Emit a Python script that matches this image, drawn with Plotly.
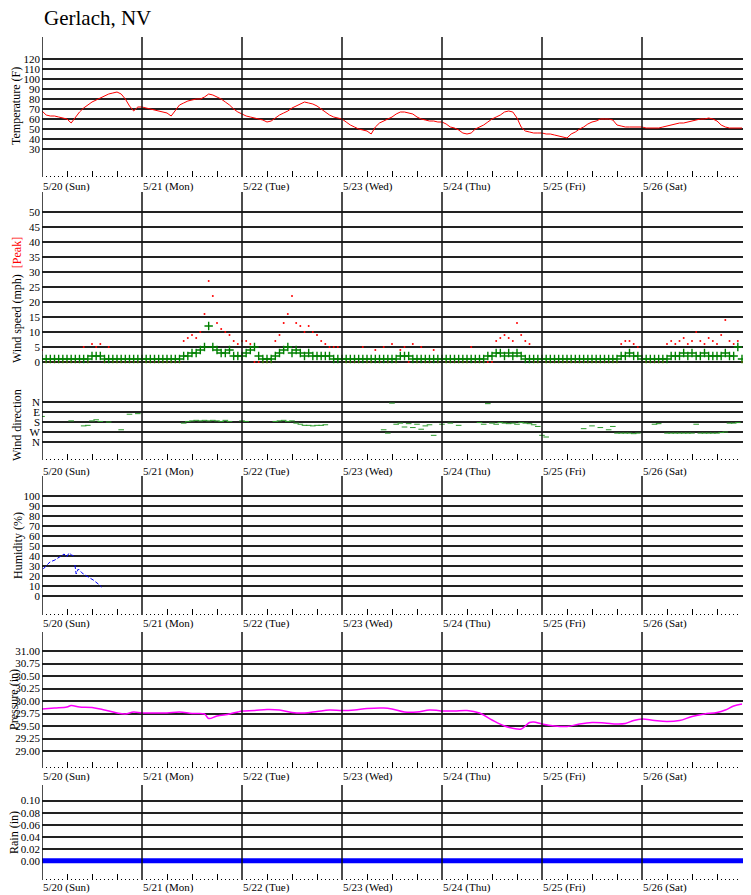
import plotly.graph_objects as go

# hourly readings, 5/20 00:00 -> 5/27 00:00 (hour 0..168)
temp_f = [68, 64, 63, 63, 62, 61, 60, 56, 62, 67, 71, 74, 77, 79, 81, 83, 85, 86, 87, 85, 80, 73, 68, 72,
          72, 71, 70, 69, 68, 67, 66, 63, 68, 74, 76, 78, 79, 80, 80, 82, 85, 84, 82, 80, 77, 74, 70, 67,
          65, 63, 62, 61, 60, 59, 57, 58, 61, 64, 66, 68, 71, 73, 75, 77, 76, 75, 73, 70, 67, 64, 62, 61,
          60, 57, 54, 52, 50, 49, 48, 45, 52, 56, 58, 60, 62, 65, 67, 67, 66, 65, 62, 60, 59, 58, 58, 57,
          57, 55, 52, 51, 49, 46, 45, 46, 50, 52, 54, 57, 60, 62, 64, 67, 68, 67, 61, 52, 48, 47, 46, 46,
          46, 45, 45, 44, 43, 42, 41, 45, 47, 50, 52, 55, 57, 58, 60, 60, 60, 59, 54, 53, 52, 52, 52, 52,
          52, 51, 51, 51, 51, 52, 53, 54, 55, 56, 56, 57, 58, 59, 60, 60, 61, 60, 58, 54, 52, 51, 51, 51,
          51]

wind_avg = [1, 1, 1, 1, 1, 1, 1, 1, 1, 1, 1, 1, 2, 2, 2, 1, 1, 1, 1, 1, 1, 1, 1, 1,
            1, 1, 1, 1, 1, 1, 1, 1, 1, 1, 2, 2, 3, 3, 4, 5, 12, 5, 4, 3, 3, 4, 2, 2,
            2, 3, 4, 5, 2, 1, 1, 1, 2, 3, 4, 5, 3, 4, 3, 2, 3, 2, 2, 2, 2, 2, 1, 1,
            1, 1, 1, 1, 1, 1, 1, 1, 1, 1, 1, 1, 1, 1, 2, 2, 2, 1, 1, 1, 1, 1, 1, 1,
            1, 1, 1, 1, 1, 1, 1, 1, 1, 1, 1, 2, 2, 3, 3, 2, 3, 2, 3, 2, 1, 1, 1, 1,
            1, 1, 1, 1, 1, 1, 1, 1, 1, 1, 1, 1, 1, 1, 1, 1, 1, 1, 1, 2, 2, 3, 2, 2,
            1, 1, 1, 1, 1, 1, 1, 2, 2, 2, 3, 2, 3, 2, 2, 3, 2, 2, 2, 2, 3, 2, 2, 5,
            1]

wind_peak = [4, 0, 0, 0, 0, 0, 0, 0, 0, 0, 5, 0, 6, 5, 6, 0, 5, 0, 0, 0, 0, 0, 0, 0,
             0, 0, 0, 0, 0, 0, 0, 0, 0, 0, 7, 8, 9, 8, 10, 16, 27, 22, 13, 11, 10, 9, 7, 6,
             7, 7, 6, 0, 0, 0, 0, 0, 7, 9, 13, 16, 22, 13, 12, 10, 12, 10, 9, 7, 6, 5, 5, 5,
             0, 0, 0, 0, 0, 5, 0, 0, 4, 0, 5, 0, 6, 0, 4, 5, 0, 6, 0, 5, 0, 0, 4, 0,
             0, 0, 0, 0, 0, 0, 0, 5, 0, 0, 0, 0, 0, 7, 8, 9, 8, 7, 13, 9, 7, 6, 0, 0,
             0, 0, 0, 0, 0, 0, 0, 0, 0, 0, 0, 0, 0, 0, 0, 0, 0, 0, 0, 6, 7, 7, 6, 5,
             0, 0, 0, 0, 0, 0, 6, 7, 6, 7, 8, 6, 7, 10, 7, 6, 8, 7, 6, 9, 14, 7, 6, 7,
             0]

N = None
wind_dir = [130, N, N, N, N, N, N, 170, N, N, 215, 210, 170, 160, 175, N, 180, N, N, 250, N, 110, N, 105,
            N, N, N, N, N, N, N, N, N, N, 190, 175, 170, 165, 170, 165, 170, 165, 170, 175, 165, 175, N, N,
            170, 175, N, N, N, N, N, N, 175, 170, 165, 175, 170, 190, 200, 210, 210, 215, 210, 210, 205, N, N, N,
            N, N, N, N, N, N, N, N, N, N, 250, 280, 10, 200, 190, 225, 195, 230, 200, 245, 215, 205, 300, N,
            200, N, 190, N, 210, N, N, N, N, 185, 200, 15, 190, 200, 185, 190, 195, 190, 200, 185, 190, 195, 205, 220,
            300, 315, N, N, N, N, N, N, N, N, 240, N, 215, N, 230, N, 250, 220, 280, 280, 280, 280, 285, 280,
            N, N, N, 200, 195, N, 280, 280, 280, 280, 280, 280, 280, 200, 280, 280, 280, 280, 280, 275, 270, 190, 190, 185,
            N]

hum_hours = [0.3, 1.1, 1.9, 3.1, 4.3, 5.3, 5.9, 6.5, 7.1, 7.7, None, 7.9, 8.2, 8.7, 9.9, 11.1, 12.3, 13.5, 14.3]
humidity = [27, 30, 34, 36, 39, 42, 39, 43, 41, 40, None, 31, 22, 27, 22, 19, 16, 12, 9]

pres_hours = [0, 3, 6, 7, 9, 12, 15, 18, 20, 22, 24, 27, 30, 33, 36, 39, 40, 42, 45, 47,
              48, 51, 54, 57, 60, 63, 66, 69, 72, 75, 78, 82, 84, 87, 90, 93, 95,
              96, 99, 102, 105, 108, 111, 114, 115, 116, 117, 118, 120,
              123, 126, 129, 132, 135, 138, 140, 142, 144, 147, 150, 153, 156, 159, 162, 164, 166, 168]
pressure = [29.84, 29.86, 29.88, 29.91, 29.88, 29.87, 29.82, 29.76, 29.74, 29.78, 29.76, 29.76, 29.76, 29.78, 29.75, 29.74, 29.65, 29.70, 29.74, 29.78,
            29.80, 29.81, 29.83, 29.82, 29.77, 29.76, 29.79, 29.82, 29.81, 29.82, 29.85, 29.86, 29.84, 29.78, 29.78, 29.82, 29.81,
            29.80, 29.80, 29.81, 29.76, 29.62, 29.50, 29.44, 29.44, 29.50, 29.57, 29.58, 29.54,
            29.50, 29.49, 29.54, 29.57, 29.56, 29.54, 29.55, 29.61, 29.64, 29.61, 29.59, 29.61, 29.69, 29.74, 29.77, 29.82, 29.90, 29.94]

rain_hours = [0, 24, 48, 72, 96, 120, 144, 168.7]
rain_in = [0.00, 0.00, 0.00, 0.00, 0.00, 0.00, 0.00, 0.00]

day_labels = ["5/20 (Sun)", "5/21 (Mon)", "5/22 (Tue)", "5/23 (Wed)", "5/24 (Thu)", "5/25 (Fri)", "5/26 (Sat)"]

hours = list(range(len(temp_f)))
dir_y = [None if d is None else 4 - d / 90 for d in wind_dir]

# the page body adds an 8px margin, so page pixel coords are shifted by OFF
OFF = 8
W, H = 751 - OFF, 895 - OFF
def py(y):
    return 1 - (y - OFF) / H
def dom(top, bottom):
    return [py(bottom), py(top)]

serif = "Liberation Serif, DejaVu Serif, serif"
fig = go.Figure()
fig.add_trace(go.Scatter(x=hours, y=temp_f, mode="lines", line=dict(color="red", width=1), xaxis="x", yaxis="y"))
fig.add_trace(go.Scatter(x=hours, y=wind_peak, mode="markers", marker=dict(color="red", size=2), xaxis="x2", yaxis="y2"))
fig.add_trace(go.Scatter(x=hours, y=wind_avg, mode="markers",
                         marker=dict(symbol="cross-thin", size=6, line=dict(color="green", width=1.4)), xaxis="x2", yaxis="y2"))
fig.add_trace(go.Scatter(x=hours, y=dir_y, mode="markers",
                         marker=dict(symbol="line-ew", size=4, line=dict(color="#2a9a2a", width=1)), xaxis="x3", yaxis="y3"))
fig.add_trace(go.Scatter(x=hum_hours, y=humidity, mode="lines", line=dict(color="blue", width=1, dash="4px,2px"), xaxis="x4", yaxis="y4"))
fig.add_trace(go.Scatter(x=pres_hours, y=pressure, mode="lines", line=dict(color="magenta", width=1.5, shape="spline"), xaxis="x5", yaxis="y5"))
fig.add_trace(go.Scatter(x=rain_hours, y=rain_in, mode="lines", line=dict(color="blue", width=5), xaxis="x6", yaxis="y6"))

panels = [  # top px, bottom px, y range, tick values, tick text
    (37, 177, [2, 142], list(range(30, 121, 10)), None),
    (192, 372, [-3.33, 56.67], list(range(0, 51, 5)), None),
    (372, 460, [-1.8, 7], [0, 1, 2, 3, 4], ["N", "W", "S", "E", "N"]),
    (476, 615, [-19, 120], list(range(0, 101, 10)), None),
    (632, 768, [28.66, 31.38], [29 + 0.25 * i for i in range(9)], ["%.2f" % (29 + 0.25 * i) for i in range(9)]),
    (785, 880, [-0.032, 0.126], [0.02 * i for i in range(6)], ["%.2f" % (0.02 * i) for i in range(6)]),
]
label_y = [186, None, 471, 623, 776, 887]

xr = [0, 709 / 100 * 24]
six = [h for h in range(6, 169, 6) if h % 24]
hourly = [h for h in range(1, 169) if h % 6]
shapes = []
annotations = []
for i, (top, bot, yr, tv, tt) in enumerate(panels):
    n = "" if i == 0 else str(i + 1)
    has_ticks = label_y[i] is not None
    fig.layout["xaxis" + n] = dict(domain=[0, 1], range=xr, anchor="y" + n, showgrid=False, zeroline=False,
                                   showticklabels=False, tickvals=six if has_ticks else [], ticks="inside" if has_ticks else "",
                                   ticklen=6, tickcolor="black", tickwidth=1, automargin=False,
                                   minor=dict(tickvals=hourly, ticks="inside", ticklen=1.5, tickcolor="black") if has_ticks else None)
    fig.layout["yaxis" + n] = dict(domain=dom(top, bot), range=yr, anchor="x" + n, tickvals=tv, ticktext=tt,
                                   showgrid=True, gridcolor="#222", gridwidth=1.6, zeroline=False, automargin=False,
                                   ticklabelstandoff=1,
                                   tickfont=dict(family=serif, size=11, color="black"))
    for d in range(7):
        shapes.append(dict(type="line", xref="x" + n, yref="y" + n + " domain", x0=24 * d, x1=24 * d, y0=0, y1=1,
                           line=dict(color="#111", width=1.5)))
    if has_ticks:
        for d, lab in enumerate(day_labels):
            annotations.append(dict(text=lab, xref="x" + n, yref="paper", x=24 * d, y=py(label_y[i]),
                                    xanchor="left", yanchor="middle", showarrow=False, xshift=-1,
                                    font=dict(family=serif, size=11, color="black")))

titles = [("Temperature (F)", 16, 106), ("Wind speed (mph)  <span style='color:red'>[Peak]</span>", 17, 300),
          ("Wind direction", 17, 425), ("Humidity (%)", 18, 545), ("Pressure (in)", 14, 700), ("Rain (in)", 14, 833)]
for txt, tx, ty in titles:
    annotations.append(dict(text=txt, xref="paper", yref="paper", x=(tx - 42) / 709, y=py(ty), textangle=-90,
                            showarrow=False, xanchor="center", yanchor="middle",
                            font=dict(family=serif, size=12, color="black")))
annotations.append(dict(text="Gerlach, NV", xref="paper", yref="paper", x=0, y=py(18), xanchor="left",
                        yanchor="middle", showarrow=False, font=dict(family=serif, size=21, color="black")))

fig.update_layout(width=W, height=H, margin=dict(l=42 - OFF, r=0, t=0, b=0), showlegend=False,
                  plot_bgcolor="white", paper_bgcolor="white", shapes=shapes, annotations=annotations)
fig.write_html("out.html")
